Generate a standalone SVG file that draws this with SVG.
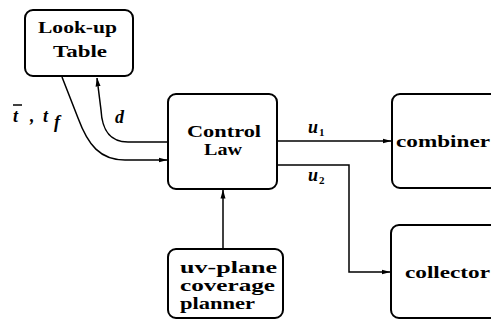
<svg xmlns="http://www.w3.org/2000/svg" width="491" height="320" viewBox="0 0 491 320">
<style>
.box{fill:#fff;stroke:#000;stroke-width:2}
.t{font-family:"Liberation Serif","Times New Roman",serif;font-weight:bold;font-size:17px;fill:#000}
.lbl{font-family:"Liberation Serif","Times New Roman",serif;font-weight:bold;font-style:italic;font-size:18px;fill:#000}
.sub{font-family:"Liberation Serif","Times New Roman",serif;font-weight:bold;font-size:11px;fill:#000}
.ln{fill:none;stroke:#000;stroke-width:1.5}
</style>
<defs>
<marker id="ah" markerWidth="9" markerHeight="6" refX="8.5" refY="3" orient="auto" markerUnits="userSpaceOnUse">
<path d="M0,0.5 L9,3 L0,5.5 Z" fill="#000"/>
</marker>
</defs>
<rect width="491" height="320" fill="#fff"/>
<g id="connectors">
<path class="ln" d="M62,77 L78,118 C88,145 100,160 125,160 H167" marker-end="url(#ah)"/>
<path class="ln" d="M168,142 H128 C108,142 102,128 101,110 L97,78" marker-end="url(#ah)"/>
<path class="ln" d="M277,141 H391" marker-end="url(#ah)"/>
<path class="ln" d="M277,165 H349 V272 H390" marker-end="url(#ah)"/>
<path class="ln" d="M223,249 V190" marker-end="url(#ah)"/>
<text class="lbl" x="13" y="122">t</text>
<line x1="13" y1="105" x2="22" y2="105" stroke="#000" stroke-width="1.5"/>
<text class="lbl" x="30" y="122">,</text>
<text class="lbl" x="43" y="122">t</text>
<text class="lbl" x="54" y="128" font-size="12">f</text>
<text class="lbl" x="115" y="123">d</text>
<text class="lbl" x="308" y="133">u</text>
<text class="sub" x="319" y="136">1</text>
<text class="lbl" x="308" y="181">u</text>
<text class="sub" x="319" y="184">2</text>
</g>
<g id="lookup">
<rect class="box" x="25" y="10" width="108" height="66" rx="8"/>
<text class="t" x="38" y="33" textLength="79" lengthAdjust="spacingAndGlyphs">Look-up</text>
<text class="t" x="53" y="57" textLength="54" lengthAdjust="spacingAndGlyphs">Table</text>
</g>
<g id="control">
<rect class="box" x="168" y="94" width="109" height="95" rx="8"/>
<text class="t" x="187" y="137" textLength="74" lengthAdjust="spacingAndGlyphs">Control</text>
<text class="t" x="204" y="155" textLength="38" lengthAdjust="spacingAndGlyphs">Law</text>
</g>
<g id="combiner">
<rect class="box" x="392" y="94" width="130" height="94" rx="8"/>
<text class="t" x="396" y="147" textLength="94" lengthAdjust="spacingAndGlyphs">combiner</text>
</g>
<g id="collector">
<rect class="box" x="391" y="225" width="130" height="93" rx="8"/>
<text class="t" x="405" y="278" textLength="85" lengthAdjust="spacingAndGlyphs">collector</text>
</g>
<g id="planner">
<rect class="box" x="168" y="249" width="115" height="69" rx="8"/>
<text class="t" x="180" y="273" textLength="97" lengthAdjust="spacingAndGlyphs">uv-plane</text>
<text class="t" x="180" y="291" textLength="95" lengthAdjust="spacingAndGlyphs">coverage</text>
<text class="t" x="180" y="309" textLength="75" lengthAdjust="spacingAndGlyphs">planner</text>
</g>
</svg>
